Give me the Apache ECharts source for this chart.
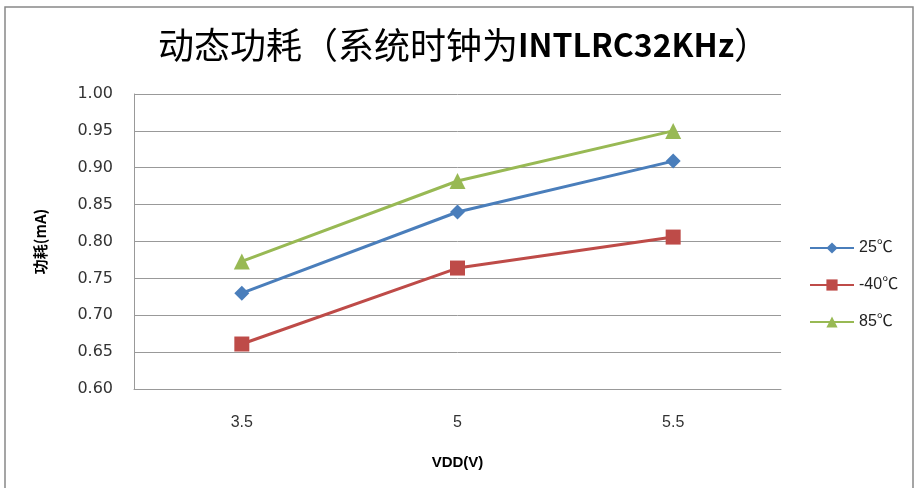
<!DOCTYPE html>
<html><head><meta charset="utf-8">
<script src="https://cdn.jsdelivr.net/npm/echarts@6/dist/echarts.min.js"></script>
<style>html,body{margin:0;padding:0;background:#fff}#c{width:915px;height:488px}</style>
</head><body><div id="c"></div>
<script>
const categories = ['3.5', '5', '5.5'];
const s25 = [0.730, 0.840, 0.909];
const sm40 = [0.661, 0.764, 0.806];
const s85 = [0.773, 0.882, 0.950];
const seriesNames = ['25℃', '-40℃', '85℃'];

const chart = echarts.init(document.getElementById('c'));
const font = '"Liberation Sans", "Noto Sans CJK SC", sans-serif';
chart.setOption({
  animation: false,
  backgroundColor: '#fff',
  title: {
    text: '{a|动态功耗（系统时钟为}{b|INTLRC32KHz}{a|）}',
    left: 459, top: 22, textAlign: 'center',
    textStyle: {
      rich: {
        a: { fontFamily: '"Noto Sans CJK SC", sans-serif', fontSize: 36, fontWeight: 'normal', color: '#000' },
        b: { fontFamily: '"Noto Sans CJK SC", sans-serif', fontSize: 32, fontWeight: 'bold', color: '#000' }
      }
    }
  },
  graphic: [{
    type: 'rect', shape: { x: 5, y: 7, width: 908, height: 490 },
    style: { fill: 'none', stroke: '#888', lineWidth: 1.5 }, silent: true
  }],
  legend: {
    orient: 'vertical', left: 804, top: 235, itemGap: 21,
    itemWidth: 44, itemHeight: 14,
    textStyle: { fontFamily: font, fontSize: 16, color: '#222' },
    data: seriesNames
  },
  grid: { left: 134, right: 134, top: 94, bottom: 99 },
  xAxis: {
    type: 'category', data: categories, boundaryGap: true,
    name: 'VDD(V)', nameLocation: 'middle', nameGap: 66,
    nameTextStyle: { fontFamily: font, fontSize: 15, fontWeight: 'bold', color: '#000' },
    axisLine: { lineStyle: { color: '#999' } },
    axisTick: { show: false },
    axisLabel: { margin: 26, fontFamily: font, fontSize: 16, color: '#333' }
  },
  yAxis: {
    type: 'value', min: 0.6, max: 1.0, interval: 0.05,
    name: '功耗(mA)', nameLocation: 'middle', nameGap: 86, nameRotate: 90,
    nameTextStyle: { fontFamily: '"Noto Sans CJK SC", sans-serif', fontSize: 15, fontWeight: 'bold', color: '#000' },
    axisLine: { show: true, lineStyle: { color: '#999' } },
    axisTick: { show: false },
    splitLine: { lineStyle: { color: '#999' } },
    axisLabel: { margin: 21, fontFamily: '"DejaVu Sans", sans-serif', fontSize: 16, color: '#333', formatter: v => v.toFixed(2) }
  },
  series: [
    { name: seriesNames[0], type: 'line', data: s25, symbol: 'diamond', symbolSize: 15,
      lineStyle: { color: '#4A7EBB', width: 3 }, itemStyle: { color: '#4A7EBB' } },
    { name: seriesNames[1], type: 'line', data: sm40, symbol: 'rect', symbolSize: 15,
      lineStyle: { color: '#BE4B48', width: 3 }, itemStyle: { color: '#BE4B48' } },
    { name: seriesNames[2], type: 'line', data: s85, symbol: 'triangle', symbolSize: 16,
      lineStyle: { color: '#98B954', width: 3 }, itemStyle: { color: '#98B954' } }
  ]
});
</script></body></html>
